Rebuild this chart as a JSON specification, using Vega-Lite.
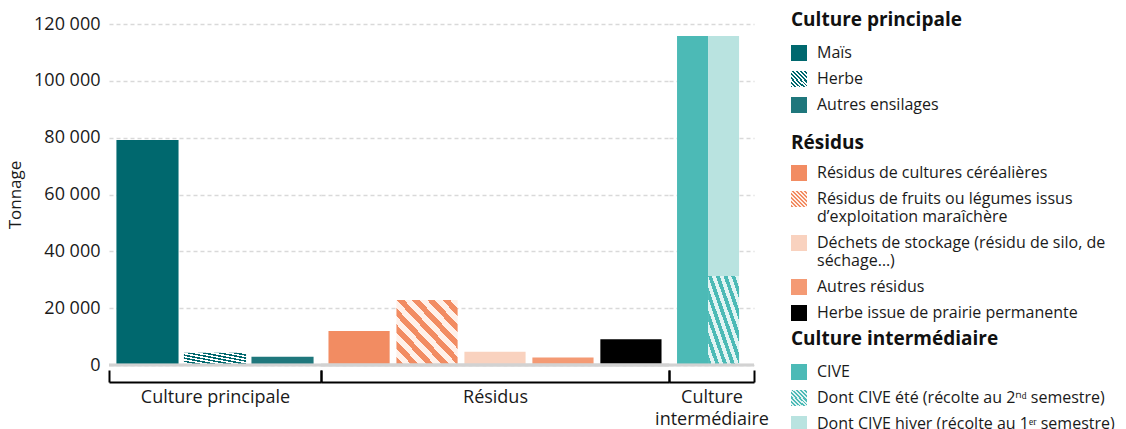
{
  "$schema": "https://vega.github.io/schema/vega-lite/v6.json",
  "padding": {"left": 6, "top": 11, "right": 0, "bottom": 0},
  "spacing": 0,
  "bounds": "flush",
  "params": [
    {"name": "gHerbe", "expr": "{gradient: 'linear', x1: 0, y1: 1, x2: 1, y2: 0, stops: [{offset: 0, color: '#00686e'}, {offset: 0.0625, color: '#00686e'}, {offset: 0.0625, color: '#ffffff'}, {offset: 0.125, color: '#ffffff'}, {offset: 0.125, color: '#00686e'}, {offset: 0.1875, color: '#00686e'}, {offset: 0.1875, color: '#ffffff'}, {offset: 0.25, color: '#ffffff'}, {offset: 0.25, color: '#00686e'}, {offset: 0.3125, color: '#00686e'}, {offset: 0.3125, color: '#ffffff'}, {offset: 0.375, color: '#ffffff'}, {offset: 0.375, color: '#00686e'}, {offset: 0.4375, color: '#00686e'}, {offset: 0.4375, color: '#ffffff'}, {offset: 0.5, color: '#ffffff'}, {offset: 0.5, color: '#00686e'}, {offset: 0.5625, color: '#00686e'}, {offset: 0.5625, color: '#ffffff'}, {offset: 0.625, color: '#ffffff'}, {offset: 0.625, color: '#00686e'}, {offset: 0.6875, color: '#00686e'}, {offset: 0.6875, color: '#ffffff'}, {offset: 0.75, color: '#ffffff'}, {offset: 0.75, color: '#00686e'}, {offset: 0.8125, color: '#00686e'}, {offset: 0.8125, color: '#ffffff'}, {offset: 0.875, color: '#ffffff'}, {offset: 0.875, color: '#00686e'}, {offset: 0.9375, color: '#00686e'}, {offset: 0.9375, color: '#ffffff'}, {offset: 1, color: '#ffffff'}]}"},
    {"name": "gFruits", "expr": "{gradient: 'linear', x1: 0, y1: 1, x2: 1, y2: 0, stops: [{offset: 0, color: '#f28c62'}, {offset: 0.0625, color: '#f28c62'}, {offset: 0.0625, color: '#fff1ea'}, {offset: 0.125, color: '#fff1ea'}, {offset: 0.125, color: '#f28c62'}, {offset: 0.1875, color: '#f28c62'}, {offset: 0.1875, color: '#fff1ea'}, {offset: 0.25, color: '#fff1ea'}, {offset: 0.25, color: '#f28c62'}, {offset: 0.3125, color: '#f28c62'}, {offset: 0.3125, color: '#fff1ea'}, {offset: 0.375, color: '#fff1ea'}, {offset: 0.375, color: '#f28c62'}, {offset: 0.4375, color: '#f28c62'}, {offset: 0.4375, color: '#fff1ea'}, {offset: 0.5, color: '#fff1ea'}, {offset: 0.5, color: '#f28c62'}, {offset: 0.5625, color: '#f28c62'}, {offset: 0.5625, color: '#fff1ea'}, {offset: 0.625, color: '#fff1ea'}, {offset: 0.625, color: '#f28c62'}, {offset: 0.6875, color: '#f28c62'}, {offset: 0.6875, color: '#fff1ea'}, {offset: 0.75, color: '#fff1ea'}, {offset: 0.75, color: '#f28c62'}, {offset: 0.8125, color: '#f28c62'}, {offset: 0.8125, color: '#fff1ea'}, {offset: 0.875, color: '#fff1ea'}, {offset: 0.875, color: '#f28c62'}, {offset: 0.9375, color: '#f28c62'}, {offset: 0.9375, color: '#fff1ea'}, {offset: 1, color: '#fff1ea'}]}"},
    {"name": "gEte", "expr": "{gradient: 'linear', x1: 0, y1: 1, x2: 1, y2: 0, stops: [{offset: 0, color: '#4cbab6'}, {offset: 0.0625, color: '#4cbab6'}, {offset: 0.0625, color: '#e2f4f3'}, {offset: 0.125, color: '#e2f4f3'}, {offset: 0.125, color: '#4cbab6'}, {offset: 0.1875, color: '#4cbab6'}, {offset: 0.1875, color: '#e2f4f3'}, {offset: 0.25, color: '#e2f4f3'}, {offset: 0.25, color: '#4cbab6'}, {offset: 0.3125, color: '#4cbab6'}, {offset: 0.3125, color: '#e2f4f3'}, {offset: 0.375, color: '#e2f4f3'}, {offset: 0.375, color: '#4cbab6'}, {offset: 0.4375, color: '#4cbab6'}, {offset: 0.4375, color: '#e2f4f3'}, {offset: 0.5, color: '#e2f4f3'}, {offset: 0.5, color: '#4cbab6'}, {offset: 0.5625, color: '#4cbab6'}, {offset: 0.5625, color: '#e2f4f3'}, {offset: 0.625, color: '#e2f4f3'}, {offset: 0.625, color: '#4cbab6'}, {offset: 0.6875, color: '#4cbab6'}, {offset: 0.6875, color: '#e2f4f3'}, {offset: 0.75, color: '#e2f4f3'}, {offset: 0.75, color: '#4cbab6'}, {offset: 0.8125, color: '#4cbab6'}, {offset: 0.8125, color: '#e2f4f3'}, {offset: 0.875, color: '#e2f4f3'}, {offset: 0.875, color: '#4cbab6'}, {offset: 0.9375, color: '#4cbab6'}, {offset: 0.9375, color: '#e2f4f3'}, {offset: 1, color: '#e2f4f3'}]}"}
  ],
  "config": {
    "font": "Open Sans",
    "locale": {"number": {"decimal": ",", "thousands": " ", "grouping": [3], "currency": ["", " €"]}},
    "view": {"stroke": null},
    "axis": {"labelFont": "Open Sans", "titleFont": "Open Sans", "labelColor": "#1a1a1a", "titleColor": "#1a1a1a"},
    "axisY": {"gridDash": [4, 3], "gridColor": "#d9d9d9", "gridWidth": 1.5, "domain": false, "ticks": false},
    "legend": {
      "orient": "none", "symbolType": "square", "symbolSize": 256, "symbolStrokeWidth": 0, "symbolOpacity": 1,
      "labelFont": "Open Sans", "labelFontSize": 16, "labelColor": "#1a1a1a",
      "titleFont": "Open Sans", "titleFontSize": 19, "titleFontWeight": "bold", "titleColor": "#111111", "titleLimit": 400,
      "titlePadding": 15, "rowPadding": 10, "labelOffset": 10, "labelLimit": 400
    }
  },
  "datasets": {
    "cp": [
      {"groupe": "Culture principale", "item": "Maïs", "v": 79200},
      {"groupe": "Culture principale", "item": "Herbe", "v": 4300},
      {"groupe": "Culture principale", "item": "Autres ensilages", "v": 2900}
    ],
    "res": [
      {"groupe": "Résidus", "item": "Résidus de cultures céréalières", "v": 12000},
      {"groupe": "Résidus", "item": "Résidus de fruits ou légumes issus d’exploitation maraîchère", "v": 22900},
      {"groupe": "Résidus", "item": "Déchets de stockage (résidu de silo, de séchage…)", "v": 4700},
      {"groupe": "Résidus", "item": "Autres résidus", "v": 2600},
      {"groupe": "Résidus", "item": "Herbe issue de prairie permanente", "v": 9100}
    ],
    "ci": [
      {"groupe": "Culture intermédiaire", "barre": "CIVE", "item": "CIVE", "ordre": 1, "v": 115800},
      {"groupe": "Culture intermédiaire", "barre": "Dont CIVE", "item": "Dont CIVE été (récolte au 2ⁿᵈ semestre)", "ordre": 1, "v": 31300},
      {"groupe": "Culture intermédiaire", "barre": "Dont CIVE", "item": "Dont CIVE hiver (récolte au 1ᵉʳ semestre)", "ordre": 2, "v": 84500}
    ]
  },
  "hconcat": [
    {
      "width": 212, "height": 341,
      "data": {"name": "cp"},
      "layer": [
        {
          "mark": {"type": "bar", "strokeWidth": 0, "fill": {"expr": "(datum.item || datum.value) == 'Herbe' ? gHerbe : (datum.item || datum.value) == 'Maïs' ? '#00686e' : '#1f777c'"}},
          "encoding": {
            "x": {"field": "groupe", "type": "nominal", "scale": {"paddingInner": 0, "paddingOuter": 0},
              "axis": {"title": null, "labelAngle": 0, "tickBand": "extent", "domainColor": "#000000", "domainWidth": 2, "tickColor": "#000000", "tickWidth": 2, "tickSize": -12, "offset": 17, "labelPadding": 18, "labelFontSize": 18, "labelLimit": 300}},
            "xOffset": {"field": "item", "type": "nominal", "sort": ["Maïs", "Herbe", "Autres ensilages"], "scale": {"paddingInner": 0.08, "paddingOuter": 0.11}},
            "y": {"field": "v", "type": "quantitative", "stack": null, "scale": {"domain": [0, 120000], "nice": false},
              "axis": {"title": "Tonnage", "values": [0, 20000, 40000, 60000, 80000, 100000, 120000], "format": ",d", "labelPadding": 9, "labelFontSize": 18, "titleFontSize": 17, "titleFontWeight": "normal", "titlePadding": 9}},
            "stroke": {"field": "item", "type": "nominal",
              "scale": {"domain": ["Maïs", "Herbe", "Autres ensilages"], "range": ["#00686e", "#80b4b7", "#1f777c"]},
              "legend": {"title": "Culture principale", "legendX": 682, "legendY": -13}}
          }
        },
        {"mark": {"type": "rule", "color": "#d2d2d2", "strokeWidth": 2.5}, "encoding": {"y": {"datum": 0}}}
      ]
    },
    {
      "width": 348, "height": 341,
      "data": {"name": "res"},
      "layer": [
        {
          "mark": {"type": "bar", "strokeWidth": 0, "fill": {"expr": "(datum.item || datum.value) == 'Résidus de fruits ou légumes issus d’exploitation maraîchère' ? gFruits : (datum.item || datum.value) == 'Résidus de cultures céréalières' ? '#f28c62' : (datum.item || datum.value) == 'Déchets de stockage (résidu de silo, de séchage…)' ? '#f9d2bf' : (datum.item || datum.value) == 'Autres résidus' ? '#f49a74' : '#000000'"}},
          "encoding": {
            "x": {"field": "groupe", "type": "nominal", "scale": {"paddingInner": 0, "paddingOuter": 0},
              "axis": {"title": null, "labelAngle": 0, "tickBand": "extent", "domainColor": "#000000", "domainWidth": 2, "tickColor": "#000000", "tickWidth": 2, "tickSize": -12, "offset": 17, "labelPadding": 18, "labelFontSize": 18, "labelLimit": 300}},
            "xOffset": {"field": "item", "type": "nominal", "sort": ["Résidus de cultures céréalières", "Résidus de fruits ou légumes issus d’exploitation maraîchère", "Déchets de stockage (résidu de silo, de séchage…)", "Autres résidus", "Herbe issue de prairie permanente"], "scale": {"paddingInner": 0.1, "paddingOuter": 0.11}},
            "y": {"field": "v", "type": "quantitative", "stack": null, "scale": {"domain": [0, 120000], "nice": false},
              "axis": {"title": null, "labels": false, "values": [0, 20000, 40000, 60000, 80000, 100000, 120000]}},
            "stroke": {"field": "item", "type": "nominal",
              "scale": {"domain": ["Résidus de cultures céréalières", "Résidus de fruits ou légumes issus d’exploitation maraîchère", "Déchets de stockage (résidu de silo, de séchage…)", "Autres résidus", "Herbe issue de prairie permanente"],
                "range": ["#f28c62", "#f8bfa6", "#f9d2bf", "#f49a74", "#000000"]},
              "legend": {"title": "Résidus", "legendX": 470, "legendY": 110, "titlePadding": 12, "rowPadding": 10,
                "labelExpr": "datum.label == 'Résidus de fruits ou légumes issus d’exploitation maraîchère' ? ['Résidus de fruits ou légumes issus', 'd’exploitation maraîchère'] : datum.label == 'Déchets de stockage (résidu de silo, de séchage…)' ? ['Déchets de stockage (résidu de silo, de', 'séchage…)'] : datum.label"}}
          }
        },
        {"mark": {"type": "rule", "color": "#d2d2d2", "strokeWidth": 2.5}, "encoding": {"y": {"datum": 0}}}
      ]
    },
    {
      "width": 85, "height": 341,
      "data": {"name": "ci"},
      "layer": [
        {
          "mark": {"type": "bar", "strokeWidth": 0, "fill": {"expr": "(datum.item || datum.value) == 'CIVE' ? '#4cbab6' : (datum.item || datum.value) == 'Dont CIVE hiver (récolte au 1ᵉʳ semestre)' ? '#b9e3e0' : gEte"}},
          "encoding": {
            "x": {"field": "groupe", "type": "nominal", "scale": {"paddingInner": 0, "paddingOuter": 0},
              "axis": {"title": null, "labelAngle": 0, "tickBand": "extent", "domainColor": "#000000", "domainWidth": 2, "tickColor": "#000000", "tickWidth": 2, "tickSize": -12, "offset": 17, "labelPadding": 18, "labelFontSize": 18, "labelLimit": 300, "labelLineHeight": 22, "labelExpr": "datum.label == 'Culture intermédiaire' ? ['Culture', 'intermédiaire'] : datum.label"}},
            "xOffset": {"field": "barre", "type": "nominal", "sort": ["CIVE", "Dont CIVE"], "scale": {"paddingInner": 0, "paddingOuter": 0.37, "align": 0.35}},
            "y": {"field": "v", "type": "quantitative", "stack": "zero", "scale": {"domain": [0, 120000], "nice": false},
              "axis": {"title": null, "labels": false, "values": [0, 20000, 40000, 60000, 80000, 100000, 120000]}},
            "order": {"field": "ordre", "type": "quantitative"},
            "detail": {"field": "item", "type": "nominal"},
            "stroke": {"field": "item", "type": "nominal",
              "scale": {"domain": ["CIVE", "Dont CIVE été (récolte au 2ⁿᵈ semestre)", "Dont CIVE hiver (récolte au 1ᵉʳ semestre)"],
                "range": ["#4cbab6", "#97d7d4", "#b9e3e0"]},
              "legend": {"title": "Culture intermédiaire", "legendX": 122, "legendY": 306}}
          }
        },
        {"mark": {"type": "rule", "color": "#d2d2d2", "strokeWidth": 2.5}, "encoding": {"y": {"datum": 0}}}
      ]
    }
  ],
  "resolve": {"scale": {"stroke": "independent", "y": "independent", "x": "independent", "xOffset": "independent"}, "legend": {"stroke": "independent"}}
}
